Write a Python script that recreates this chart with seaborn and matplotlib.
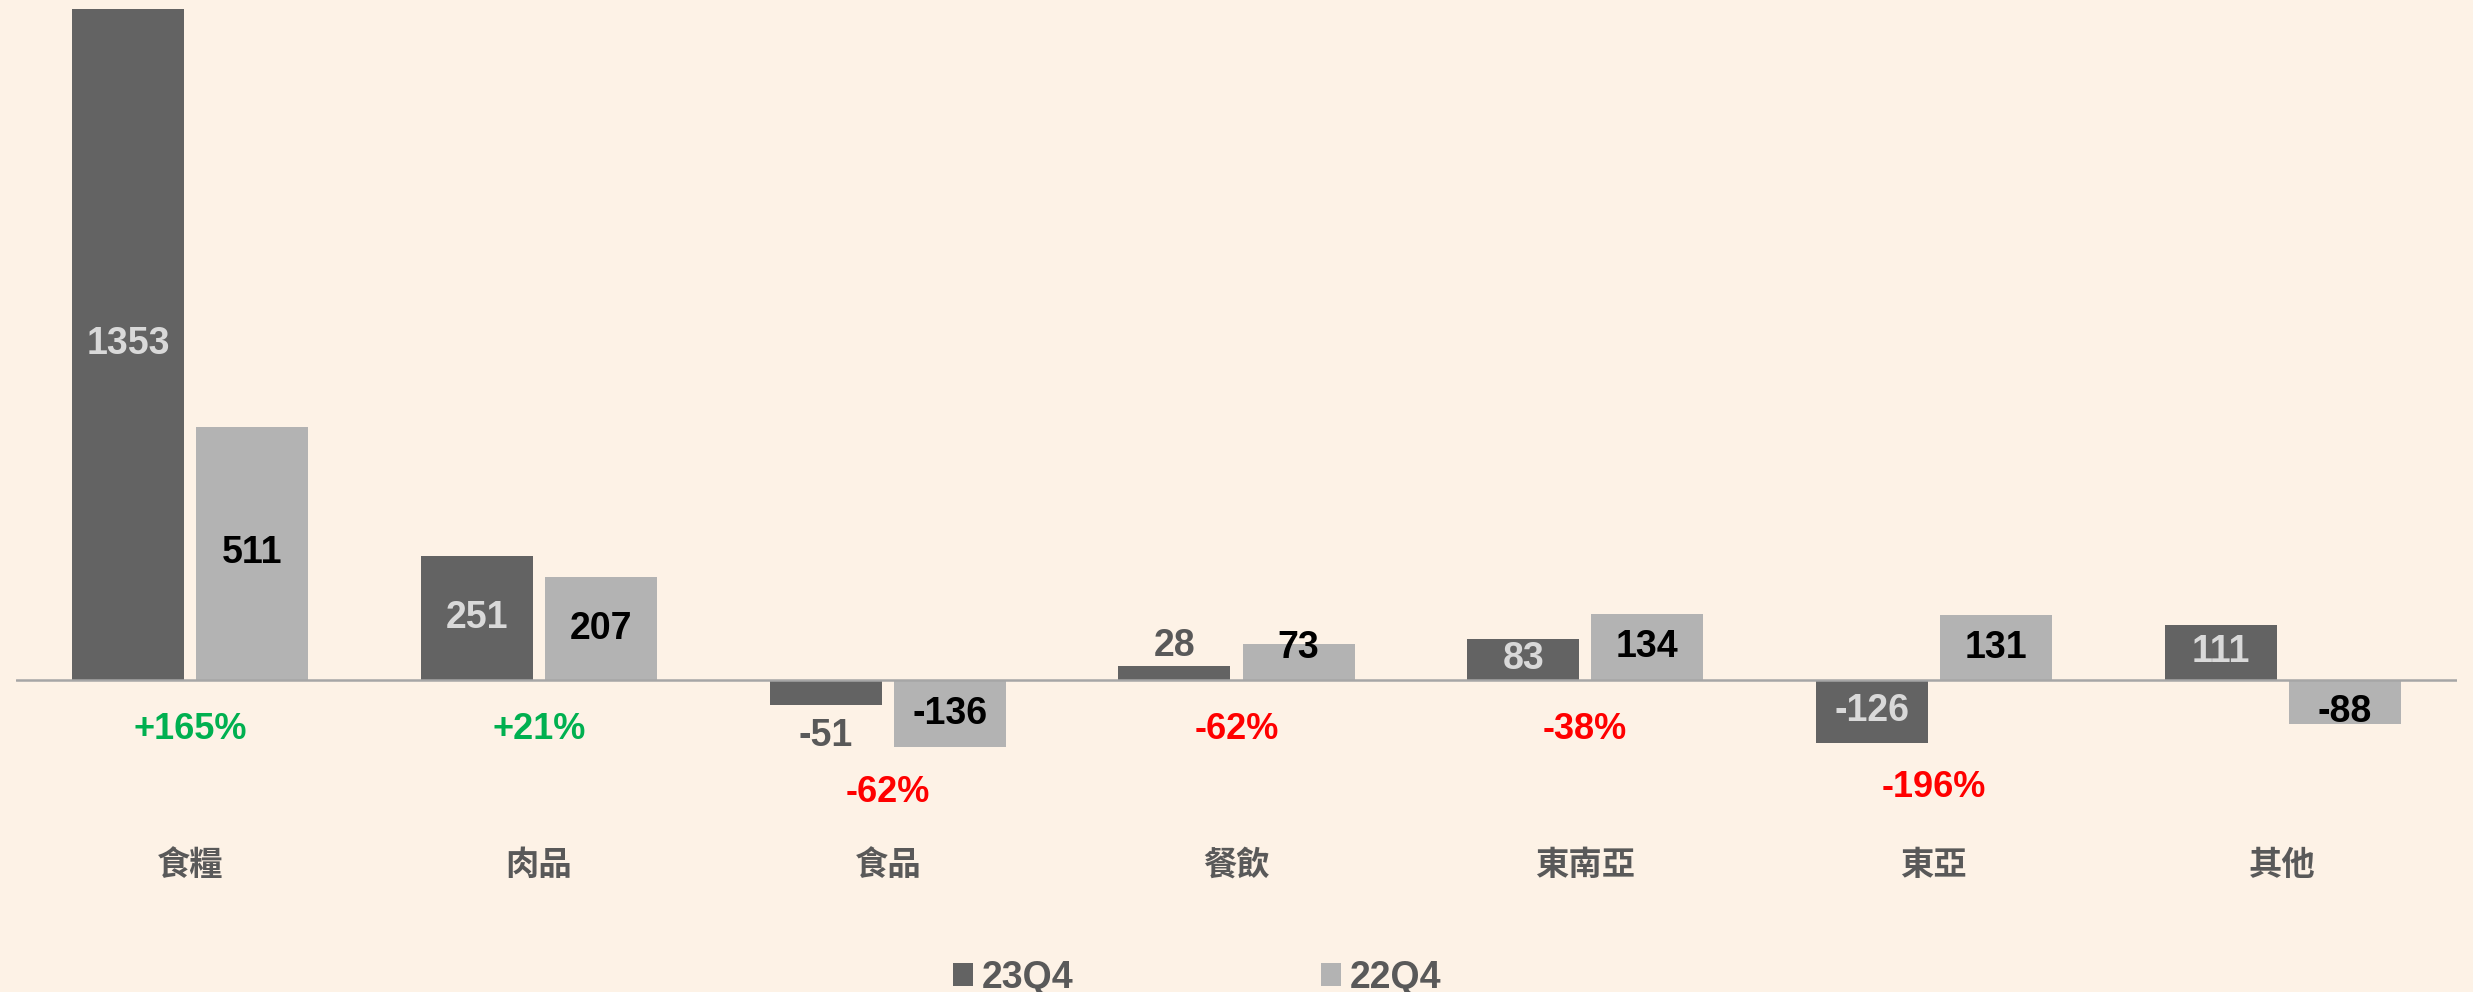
import matplotlib
matplotlib.use("Agg")
import matplotlib.pyplot as plt
import seaborn as sns
import pandas as pd
import numpy as np

# ---- data ----
categories = ["食糧", "肉品", "食品", "餐飲", "東南亞", "東亞", "其他"]
series_names = ["23Q4", "22Q4"]
values_23q4 = [1353, 251, -51, 28, 83, -126, 111]
values_22q4 = [511, 207, -136, 73, 134, 131, -88]
pct_labels = ["+165%", "+21%", "-62%", "-62%", "-38%", "-196%", ""]

# ---- style ----
BG = "#FDF2E6"
DARK = "#636363"
LIGHT = "#B3B3B3"
TXT_GRAY = "#595959"
GREEN = "#00B050"
RED = "#FF0000"

sns.set_theme(style="white")
plt.rcParams["font.family"] = ["Liberation Sans", "Noto Sans CJK TC", "DejaVu Sans"]

W, H = 2473, 992
fig = plt.figure(figsize=(W / 100, H / 100), dpi=100, facecolor=BG)
ax = fig.add_axes([16 / W, 0, (2457 - 16) / W, 1])
ax.set_facecolor(BG)

df = pd.DataFrame({
    "category": categories * 2,
    "series": [series_names[0]] * len(categories) + [series_names[1]] * len(categories),
    "value": values_23q4 + values_22q4,
})

sns.barplot(data=df, x="category", y="value", hue="series",
            palette=[DARK, LIGHT], width=0.712, gap=0.098,
            order=categories, hue_order=series_names, ax=ax,
            legend=True, saturation=1, edgecolor="none", linewidth=0)

ax.set_xlim(-0.5, len(categories) - 0.5)
ax.set_ylim(-629, 1371)
ax.axhline(0, color="#A6A6A6", lw=1.8, zorder=3)

for s in ax.spines.values():
    s.set_visible(False)
ax.set_xticks([])
ax.set_yticks([])
ax.set_xlabel("")
ax.set_ylabel("")

# bar value labels
xs = np.arange(len(categories))
off = 0.178
fs_val = 27
for i, v in enumerate(values_23q4):
    x = xs[i] - off
    if abs(v) >= 80:
        ax.text(x, v / 2, str(v), ha="center", va="center", fontsize=fs_val,
                fontweight="bold", color="#D9D9D9", zorder=5)
    else:
        y = v + 40 if v > 0 else v - 62
        ax.text(x, y, str(v), ha="center", va="center", fontsize=fs_val,
                fontweight="bold", color=TXT_GRAY, zorder=5)
for i, v in enumerate(values_22q4):
    x = xs[i] + off
    y = np.sign(v) * max(abs(v) / 2, 64)
    ax.text(x, y, str(v), ha="center", va="center", fontsize=fs_val,
            fontweight="bold", color="black", zorder=5)

# percent change labels
for i, p in enumerate(pct_labels):
    if not p:
        continue
    lowest = min(0, values_23q4[i], values_22q4[i])
    y = min(-100, lowest - 90)
    col = GREEN if p.startswith("+") else RED
    ax.text(xs[i], y, p, ha="center", va="center", fontsize=26,
            fontweight="bold", color=col, zorder=5)

# category labels
for i, c in enumerate(categories):
    ax.text(xs[i], -374, c, ha="center", va="center", fontsize=24,
            color=TXT_GRAY, fontfamily=["Noto Sans CJK TC", "DejaVu Sans"],
            fontweight="bold")

# legend
handles, labels = ax.get_legend_handles_labels()
if ax.legend_:
    ax.legend_.remove()
leg = fig.legend(handles, labels, loc="center", ncol=2,
                 bbox_to_anchor=(1197 / W, 1 - 978 / H), frameon=False,
                 prop={"size": 27, "weight": "bold"},
                 handlelength=0.55, handleheight=0.55, handletextpad=0.22,
                 columnspacing=6.6, borderpad=0, borderaxespad=0)
for t in leg.get_texts():
    t.set_color(TXT_GRAY)

fig.savefig("out.png", dpi=100, facecolor=BG)
